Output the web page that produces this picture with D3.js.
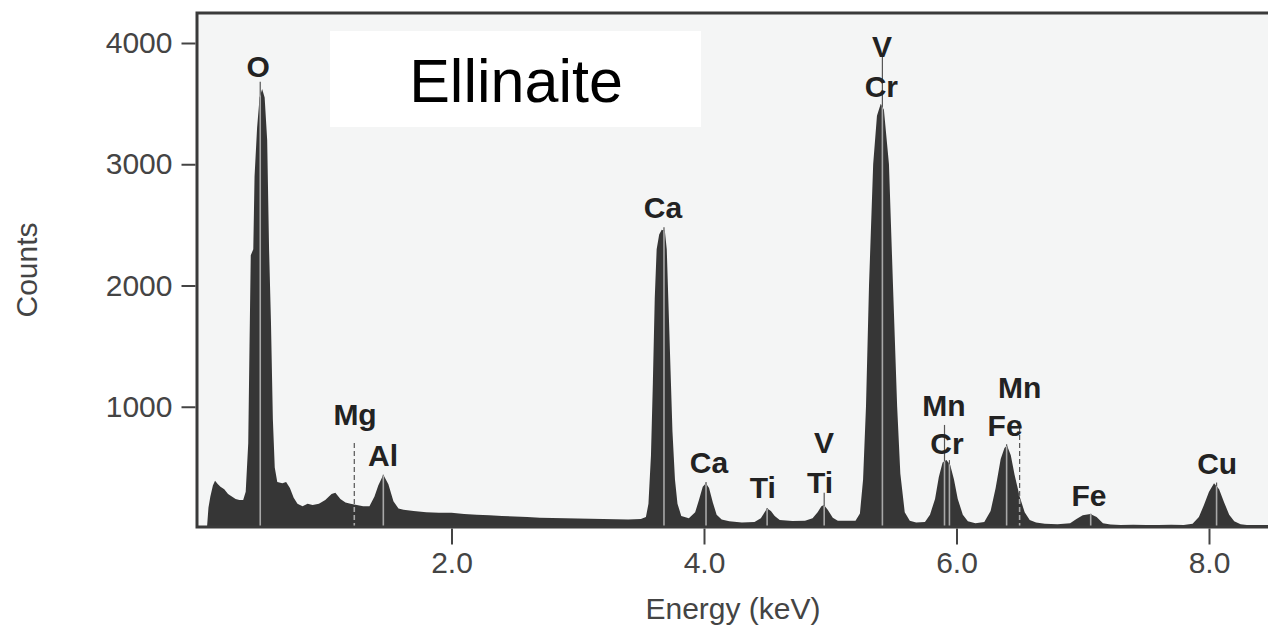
<!DOCTYPE html>
<html>
<head>
<meta charset="utf-8">
<script src="https://cdn.jsdelivr.net/npm/d3@7"></script>
<style>
  body { margin: 0; background: #fff; }
  svg { display: block; font-family: "Liberation Sans", Arial, sans-serif; }
</style>
</head>
<body>
<div id="root"></div>
<script>
// spectrum (keV, counts)
const energy = [0.056, 0.063, 0.075, 0.09, 0.11, 0.127, 0.15, 0.17, 0.2, 0.23, 0.26, 0.29, 0.32, 0.35, 0.37,
  0.39, 0.40, 0.41, 0.43, 0.44, 0.46, 0.48, 0.50, 0.52, 0.54, 0.555, 0.57, 0.585, 0.60, 0.62, 0.66, 0.69, 0.72, 0.75,
  0.78, 0.82, 0.86, 0.9, 0.95, 1.0, 1.05, 1.08, 1.12, 1.16, 1.2, 1.25, 1.3, 1.35, 1.39, 1.42, 1.46,
  1.5, 1.54, 1.58, 1.62, 1.7, 1.8, 1.9, 2.0, 2.1, 2.2, 2.3, 2.4, 2.5, 2.6, 2.7, 2.8, 2.9, 3.0, 3.1,
  3.2, 3.3, 3.4, 3.5, 3.54, 3.56, 3.58, 3.595, 3.61, 3.625, 3.645, 3.665, 3.69, 3.705, 3.72, 3.735, 3.75, 3.77, 3.79, 3.82,
  3.88, 3.93, 3.96, 3.99, 4.015, 4.04, 4.07, 4.1, 4.14, 4.2, 4.3, 4.4, 4.45, 4.48, 4.5, 4.53, 4.56,
  4.6, 4.7, 4.8, 4.86, 4.9, 4.93, 4.95, 4.98, 5.02, 5.06, 5.12, 5.2, 5.235, 5.26, 5.283, 5.307, 5.34, 5.37,
  5.40, 5.425, 5.465, 5.497, 5.53, 5.555, 5.59, 5.63, 5.68, 5.75, 5.79, 5.83, 5.86, 5.89, 5.92, 5.95,
  5.98, 6.01, 6.05, 6.09, 6.15, 6.22, 6.27, 6.31, 6.35, 6.38, 6.4, 6.43, 6.46, 6.5, 6.54, 6.58, 6.63,
  6.7, 6.8, 6.9, 6.95, 7.0, 7.06, 7.11, 7.16, 7.22, 7.3, 7.4, 7.5, 7.6, 7.7, 7.8, 7.87, 7.92, 7.96,
  8.0, 8.04, 8.08, 8.12, 8.16, 8.2, 8.25, 8.3, 8.4, 8.5];
const counts = [0, 0, 170, 260, 350, 390, 360, 340, 320, 280, 260, 240, 230, 230, 300,
  700, 1500, 2250, 2300, 2900, 3300, 3550, 3620, 3550, 3200, 2300, 1700, 900, 500, 380, 370, 380, 330, 250,
  200, 180, 200, 190, 200, 230, 280, 290, 240, 210, 200, 190, 180, 180, 260, 350, 440,
  360, 220, 160, 150, 140, 130, 125, 125, 115, 110, 105, 100, 95, 90, 85, 82, 80, 78, 76,
  74, 72, 70, 75, 90, 200, 600, 1200, 1900, 2300, 2420, 2460, 2450, 2300, 1800, 1300, 800, 400, 200, 100,
  80, 130, 230, 340, 370, 330, 210, 110, 70, 55, 45, 50, 80, 130, 160, 140, 100,
  65, 58, 60, 80, 130, 180, 190, 150, 85, 60, 60, 60, 120, 400, 1000, 2000, 3000, 3400,
  3500, 3450, 3000, 2000, 1000, 450, 130, 60, 45, 50, 110, 240, 420, 540, 560, 520,
  400, 240, 110, 55, 40, 50, 140, 330, 570, 660, 680, 600, 440, 260, 130, 65, 45,
  35, 30, 40, 75, 105, 115, 90, 40, 28, 25, 27, 25, 24, 26, 25, 35, 90, 190,
  300, 370, 320, 210, 110, 55, 30, 25, 24, 24];

const xTicks = [2, 4, 6, 8];
const yTicks = [1000, 2000, 3000, 4000];

// element marker lines: energy, height reached, dashed or not
const markerE = [0.485, 1.23, 1.46, 3.683, 4.016, 4.5, 4.952, 5.413, 5.905, 5.944, 6.397, 6.5, 7.063, 8.06];
const markerTop = [3680, 720, 440, 2480, 380, 165, 290, 3900, 850, 560, 690, 880, 118, 375];
const markerDash = [false, true, false, false, false, false, false, false, false, false, false, true, false, false];

// peak labels: text, energy, counts at baseline
const labelText = ["O", "Mg", "Al", "Ca", "Ca", "Ti", "V", "Ti", "V", "Cr", "Mn", "Cr", "Mn", "Fe", "Fe", "Cu"];
const labelE = [0.468, 1.236, 1.458, 3.675, 4.04, 4.465, 4.95, 4.92, 5.41, 5.405, 5.9, 5.925, 6.5, 6.385, 7.05, 8.065];
const labelC = [3719, 851, 512, 2554, 455, 248, 620, 289, 3884, 3554, 926, 612, 1074, 760, 182, 446];

const width = 1268, height = 626;
const plotLeft = 197, plotTop = 13, plotBottom = 527, plotRight = 1272;

const x = d3.scaleLinear().domain([0, 8]).range([199, 1209]);
const y = d3.scaleLinear().domain([0, 4000]).range([528, 43]);

const svg = d3.select("#root").append("svg")
    .attr("width", width)
    .attr("height", height);

svg.append("rect")
    .attr("x", plotLeft).attr("y", plotTop)
    .attr("width", plotRight - plotLeft).attr("height", plotBottom - plotTop)
    .attr("fill", "#f4f5f5");

const spectrum = energy.map((e, i) => [e, counts[i]]);

const area = d3.area()
    .x(d => x(d[0]))
    .y0(y(0))
    .y1(d => y(d[1]));

svg.append("clipPath").attr("id", "fillclip")
  .append("path").attr("d", area(spectrum));

const markers = markerE.map((e, i) => ({ e, top: markerTop[i], dash: markerDash[i] }));

// parts of the marker lines above the fill
svg.append("g").selectAll("line")
    .data(markers)
    .join("line")
      .attr("x1", d => x(d.e)).attr("x2", d => x(d.e))
      .attr("y1", y(0)).attr("y2", d => y(d.top))
      .attr("stroke", "#555")
      .attr("stroke-width", 1.2)
      .attr("stroke-dasharray", d => d.dash ? "5,3" : null);

svg.append("path")
    .datum(spectrum)
    .attr("d", area)
    .attr("fill", "#363636");

// lighter parts inside the fill
svg.append("g").attr("clip-path", "url(#fillclip)").selectAll("line")
    .data(markers)
    .join("line")
      .attr("x1", d => x(d.e)).attr("x2", d => x(d.e))
      .attr("y1", y(0)).attr("y2", d => y(d.top))
      .attr("stroke", "#a8a8a8")
      .attr("stroke-width", 1.6)
      .attr("stroke-dasharray", d => d.dash ? "5,3" : null);

svg.append("g").selectAll("text")
    .data(labelText)
    .join("text")
      .attr("x", (d, i) => x(labelE[i]))
      .attr("y", (d, i) => y(labelC[i]))
      .attr("text-anchor", "middle")
      .attr("font-size", 30)
      .attr("font-weight", "bold")
      .attr("fill", "#222")
      .text(d => d);

// title box
svg.append("rect")
    .attr("x", 330).attr("y", 31)
    .attr("width", 371).attr("height", 96)
    .attr("fill", "#fff");
svg.append("text")
    .attr("x", 516).attr("y", 102)
    .attr("text-anchor", "middle")
    .attr("font-size", 61)
    .attr("fill", "#000")
    .text("Ellinaite");

// frame
svg.append("path")
    .attr("d", `M${plotRight},${plotTop}H${plotLeft}V${plotBottom}H${plotRight}`)
    .attr("fill", "none")
    .attr("stroke", "#3a3a3a")
    .attr("stroke-width", 3);

const yAxis = svg.append("g")
    .attr("transform", `translate(${plotLeft - 1.5},0)`)
    .call(d3.axisLeft(y).tickValues(yTicks).tickSize(14).tickPadding(9).tickFormat(d3.format("d")));

const xAxis = svg.append("g")
    .attr("transform", `translate(0,${plotBottom + 1.5})`)
    .call(d3.axisBottom(x).tickValues(xTicks).tickSize(16).tickPadding(7).tickFormat(d3.format(".1f")));

[yAxis, xAxis].forEach(g => {
  g.select(".domain").remove();
  g.selectAll(".tick line").attr("stroke", "#444").attr("stroke-width", 2);
  g.selectAll(".tick text")
      .attr("font-family", "'Liberation Sans', Arial, sans-serif")
      .attr("font-size", 30)
      .attr("fill", "#444");
});

svg.append("text")
    .attr("x", 733).attr("y", 619)
    .attr("text-anchor", "middle")
    .attr("font-size", 30)
    .attr("fill", "#444")
    .text("Energy (keV)");

svg.append("text")
    .attr("transform", "translate(37,270) rotate(-90)")
    .attr("text-anchor", "middle")
    .attr("font-size", 30)
    .attr("fill", "#444")
    .text("Counts");
</script>
</body>
</html>
